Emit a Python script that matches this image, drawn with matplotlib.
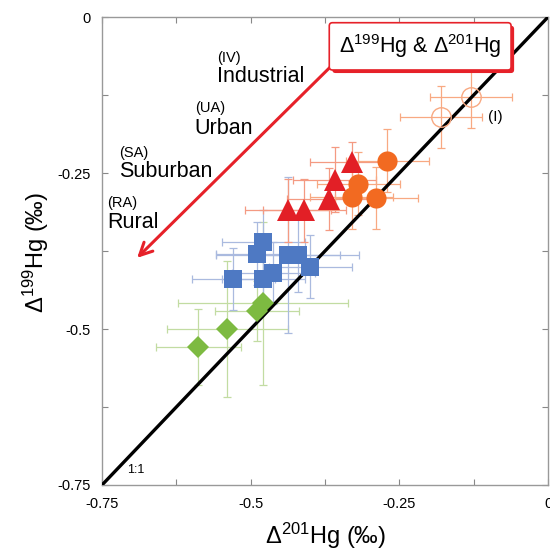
import matplotlib
matplotlib.use("Agg")
import matplotlib.pyplot as plt
import matplotlib.patheffects as pe

plt.rcParams['font.family'] = ['Liberation Sans', 'DejaVu Sans']
plt.rcParams['mathtext.fontset'] = 'custom'
plt.rcParams['mathtext.rm'] = 'Liberation Sans'
plt.rcParams['mathtext.it'] = 'Liberation Sans:italic'
plt.rcParams['mathtext.bf'] = 'Liberation Sans:bold'

# industrial, open circles (I)
open_x = [-0.180, -0.130]
open_y = [-0.160, -0.128]
open_xerr = [0.069, 0.069]
open_yerr = [0.050, 0.050]

# industrial filled circles
circ_x = [-0.270, -0.319, -0.330, -0.289]
circ_y = [-0.230, -0.267, -0.289, -0.290]
circ_xerr = [0.070, 0.070, 0.070, 0.070]
circ_yerr = [0.050, 0.050, 0.050, 0.050]

# urban triangles
tri_x = [-0.330, -0.359, -0.369, -0.437, -0.410]
tri_y = [-0.232, -0.261, -0.292, -0.310, -0.310]
tri_xerr = [0.070, 0.070, 0.070, 0.072, 0.070]
tri_yerr = [0.031, 0.052, 0.050, 0.050, 0.050]

# suburban squares
sq_x = [-0.479, -0.489, -0.529, -0.479, -0.462, -0.438, -0.420, -0.400]
sq_y = [-0.360, -0.379, -0.420, -0.420, -0.410, -0.381, -0.381, -0.400]
sq_xerr = [0.070, 0.070, 0.070, 0.070, 0.070, 0.120, 0.070, 0.070]
sq_yerr = [0.050, 0.050, 0.050, 0.050, 0.050, 0.125, 0.060, 0.050]

# rural diamonds
dia_x = [-0.588, -0.539, -0.489, -0.479]
dia_y = [-0.529, -0.500, -0.471, -0.459]
dia_xerr = [0.071, 0.101, 0.071, 0.143]
dia_yerr = [0.061, 0.109, 0.048, 0.131]

ticks = [-0.75, -0.5, -0.25, 0]
tick_labels = ['-0.75', '-0.5', '-0.25', '0']
minor_ticks = [-0.625, -0.375, -0.125]

orange = '#F26A21'
orange_err = '#F8A982'
red = '#E21F26'
red_err = '#F49A82'
blue = '#4E79C3'
blue_err = '#AABADF'
green = '#7DBA41'
green_err = '#C2DCA2'

fig = plt.figure(figsize=(5.5, 5.51), dpi=100)
ax = fig.add_axes([0.1855, 0.1198, 0.8109, 0.8493])

# 1:1 line
ax.plot([-0.75, 0], [-0.75, 0], color='black', lw=2.4, zorder=4)
ax.text(-0.708, -0.726, '1:1', fontsize=9, ha='left', va='center')

ekw = dict(fmt='none', elinewidth=0.9, capsize=3, capthick=0.9, zorder=2)
ax.errorbar(dia_x, dia_y, xerr=dia_xerr, yerr=dia_yerr, ecolor=green_err, **ekw)
ax.errorbar(sq_x, sq_y, xerr=sq_xerr, yerr=sq_yerr, ecolor=blue_err, **ekw)
ax.errorbar(tri_x, tri_y, xerr=tri_xerr, yerr=tri_yerr, ecolor=red_err, **ekw)
ax.errorbar(circ_x, circ_y, xerr=circ_xerr, yerr=circ_yerr, ecolor=orange_err, **ekw)
ax.errorbar(open_x, open_y, xerr=open_xerr, yerr=open_yerr, ecolor=orange_err, **ekw)

ax.plot(dia_x, dia_y, 'D', ms=11.5, color=green, mew=0, zorder=5)
ax.plot(sq_x, sq_y, 's', ms=12.5, color=blue, mew=0, zorder=5)
ax.plot(tri_x, tri_y, '^', ms=15.5, color=red, mew=0, zorder=5)
ax.plot(circ_x, circ_y, 'o', ms=14.5, color=orange, mew=0, zorder=5)
ax.plot(open_x, open_y, 'o', ms=14, mfc='none', mec=orange_err, mew=1.0, zorder=5)
ax.text(-0.101, -0.160, '(I)', fontsize=11, ha='left', va='center')

# category labels
labels_small = ['(IV)', '(UA)', '(SA)', '(RA)']
labels_big = ['Industrial', 'Urban', 'Suburban', 'Rural']
lab_x = [-0.557, -0.594, -0.721, -0.742]
small_y = [-0.065, -0.146, -0.218, -0.298]
big_y = [-0.095, -0.178, -0.248, -0.330]
for s, b, x, ys, yb in zip(labels_small, labels_big, lab_x, small_y, big_y):
    ax.text(x, ys, s, fontsize=10.5, ha='left', va='center')
    ax.text(x, yb, b, fontsize=15.5, ha='left', va='center')

# arrow and boxed title
ax.annotate('', xy=(-0.691, -0.386), xytext=(-0.366, -0.080),
            arrowprops=dict(arrowstyle='->,head_length=0.9,head_width=0.45',
                            color='#E62129', lw=2.2, shrinkA=0, shrinkB=0), zorder=3)
t = ax.text(-0.215, -0.047, r'$\mathregular{\Delta^{199}}$Hg & $\mathregular{\Delta^{201}}$Hg',
            fontsize=15.5, ha='center', va='center', zorder=6,
            bbox=dict(boxstyle='round,pad=0.45,rounding_size=0.15', fc='white',
                      ec='#E62129', lw=1.2))
t.get_bbox_patch().set_path_effects([
    pe.SimplePatchShadow(offset=(2.2, -2.2), shadow_rgbFace='#E62129', alpha=1.0),
    pe.Normal()])

ax.set_xlim(-0.75, 0)
ax.set_ylim(-0.75, 0)
ax.set_xticks(ticks)
ax.set_xticklabels(tick_labels)
ax.set_yticks(ticks)
ax.set_yticklabels(tick_labels)
ax.set_xticks(minor_ticks, minor=True)
ax.set_yticks(minor_ticks, minor=True)
ax.tick_params(which='both', direction='in', length=4, width=0.8, color='#888888',
               top=True, right=True, labelsize=10.5)
ax.tick_params(axis='x', pad=9)
ax.tick_params(axis='y', pad=8)
for sp in ax.spines.values():
    sp.set_color('#999999')
    sp.set_linewidth(1.0)

fig.text(0.5927, 0.013, r'$\mathregular{\Delta^{201}}$Hg (‰)', fontsize=17,
         ha='center', va='baseline')
fig.text(0.079, 0.541, r'$\mathregular{\Delta^{199}}$Hg (‰)', fontsize=17,
         ha='center', va='baseline', rotation=90, rotation_mode='anchor')

fig.savefig('out.png', dpi=100)
